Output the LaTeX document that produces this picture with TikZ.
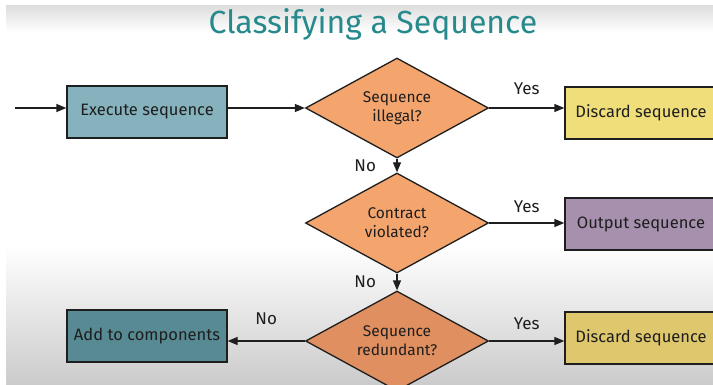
\documentclass[tikz,border=0pt]{standalone}
\usepackage{fontspec}
\setmainfont{Fira Sans}
\usetikzlibrary{shapes.geometric,arrows.meta}

\definecolor{titleteal}{RGB}{38,138,140}
\definecolor{execfill}{RGB}{134,178,189}
\definecolor{addfill}{RGB}{88,138,148}
\definecolor{discardfill}{RGB}{240,222,122}
\definecolor{discardlow}{RGB}{222,199,108}
\definecolor{outputfill}{RGB}{166,144,174}
\definecolor{decisionfill}{RGB}{244,165,110}
\definecolor{decisionlow}{RGB}{224,144,96}
\definecolor{inkdark}{RGB}{30,30,30}
\definecolor{slidegray}{RGB}{203,203,203}

\tikzset{
  stepbox/.style={draw=inkdark, line width=1.3pt, minimum width=160pt, minimum height=52pt,
    inner sep=0pt, font=\fontsize{16.5}{19}\selectfont, text=inkdark},
  endbox/.style={stepbox, minimum width=152pt},
  decision/.style={diamond, draw=inkdark, line width=1.3pt, fill=decisionfill,
    minimum width=183pt, minimum height=100pt, inner sep=0pt, aspect=1.8,
    align=center, font=\fontsize{15.5}{19}\selectfont, text=inkdark},
  flow/.style={draw=inkdark, line width=1.3pt, -{Triangle[length=10pt,width=8pt]}},
  answer/.style={font=\fontsize{17}{20}\selectfont, text=inkdark},
}

\begin{document}
\begin{tikzpicture}[x=1pt,y=-1pt]
  % page and slide background
  \useasboundingbox (0,0) rectangle (713,385);
  \fill[white] (0,0) rectangle (713,385);
  \shade[top color=black!13, bottom color=white] (6,6) rectangle (713,32);
  \shade[top color=white, bottom color=slidegray] (6,245) rectangle (713,385);

  % title
  \node[text=titleteal, font=\fontsize{32}{38}\selectfont] (title) at (373,24) {Classifying a Sequence};

  % process boxes
  \node[stepbox, fill=execfill] (exec) at (147,112) {Execute sequence};
  \node[endbox, fill=discardfill] (discA) at (641,113) {Discard sequence};
  \node[endbox, fill=outputfill] (outp) at (641,224) {Output sequence};
  \node[endbox, fill=discardlow] (discB) at (641,338) {Discard sequence};
  \node[stepbox, fill=addfill] (addc) at (147,336) {Add to components};

  % decisions
  \node[decision] (illegal) at (397,108) {Sequence\\illegal?};
  \node[decision] (contract) at (397,223) {Contract\\violated?};
  \node[decision, fill=decisionlow] (redund) at (397,341) {Sequence\\redundant?};

  % entry point
  \coordinate (entry) at (15,108);

  % connectors
  \draw[flow] (entry) -- (entry -| exec.west);
  \draw[flow] (illegal.west -| exec.east) -- (illegal.west);
  \draw[flow] (illegal.east) -- (illegal.east -| discA.west) node[answer, midway, above=9pt] (yesA) {Yes};
  \draw[flow] (illegal.south) -- (contract.north) node[answer, midway, left=17pt] (noA) {No};
  \draw[flow] (contract.east) -- (contract.east -| outp.west) node[answer, midway, above=6pt] (yesB) {Yes};
  \draw[flow] (contract.south) -- (redund.north) node[answer, midway, left=17pt] (noB) {No};
  \draw[flow] (redund.east) -- (redund.east -| discB.west) node[answer, midway, above=7pt] (yesC) {Yes};
  \draw[flow] (redund.west) -- (redund.west -| addc.east) node[answer, midway, above=12pt] (noC) {No};
\end{tikzpicture}
\end{document}
